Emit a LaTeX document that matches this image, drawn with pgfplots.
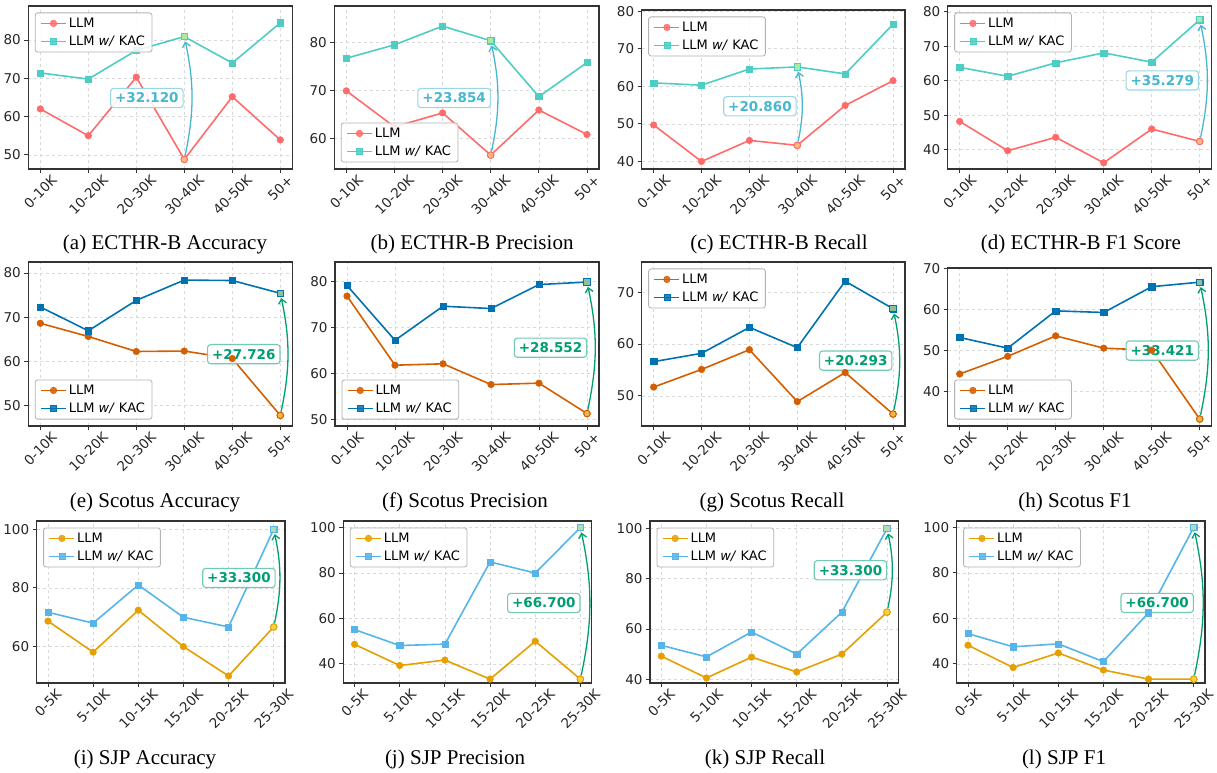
\documentclass[border=0pt]{standalone}
\usepackage{pgfplots}
\pgfplotsset{compat=1.18}
\usepackage{graphicx}
\usepackage{fontspec}
\setmainfont{DejaVu Sans}
\newfontfamily\capfont{Liberation Serif}
\usetikzlibrary{arrows.meta}

\definecolor{rA}{HTML}{FF6B6B}
\definecolor{tA}{HTML}{4ECDC4}
\definecolor{annA}{HTML}{45B7D1}
\definecolor{rB}{HTML}{D55E00}
\definecolor{bB}{HTML}{0072B2}
\definecolor{annB}{HTML}{009E73}
\definecolor{oC}{HTML}{E69F00}
\definecolor{sC}{HTML}{56B4E9}
\definecolor{hly}{HTML}{FFFF80}
\definecolor{framec}{HTML}{333333}

\newcommand{\rl}[1]{\rotatebox{45}{#1}}

\tikzset{
  annarrow/.style={draw=#1, line width=1.3pt, -{Straight Barb[length=4.5pt,width=8pt]}, shorten <=4pt, shorten >=5pt},
  annbox/.style={draw=#1!55, fill=white, fill opacity=0.9, text opacity=1, text=#1, rounded corners=3pt, line width=1.1pt, inner xsep=4.5pt, inner ysep=4.5pt, font=\bfseries\fontsize{13.5}{15}\selectfont},
  capt/.style={anchor=base, font=\capfont\fontsize{21}{24}\selectfont},
}

\pgfplotsset{
  base/.style={scale only axis, anchor=south west,
    xmin=-0.25, xmax=5.25, xtick={0,1,2,3,4,5},
    tick align=outside, xtick pos=bottom, ytick pos=left,
    major tick length=4pt,
    every tick/.style={framec, line width=0.9pt},
    axis line style={framec, line width=1.4pt},
    grid=major, grid style={dashed, black!15, line width=0.6pt},
    ticklabel style={font=\fontsize{13.5}{15}\selectfont, text=black!85},
    /pgf/number format/assume math mode=true,
    xticklabel style={anchor=north, inner sep=1pt},
    legend cell align=left,
    legend style={font=\fontsize{13}{15}\selectfont, draw=black!30, line width=0.8pt, rounded corners=2.5pt, fill=white, fill opacity=0.85, text opacity=1, inner xsep=5pt, inner ysep=3pt, row sep=3pt},
    legend image code/.code={\draw[mark repeat=2,mark phase=2,##1] plot coordinates {(0pt,0pt) (12.5pt,0pt) (25pt,0pt)};},
  },
  ul/.style={legend style={at={(0,1)}, anchor=north west, xshift=6.5pt, yshift=-6.5pt}},
  ll/.style={legend style={at={(0,0)}, anchor=south west, xshift=6.5pt, yshift=6.5pt}},
  xk/.style={xticklabels={\rl{0-10K},\rl{10-20K},\rl{20-30K},\rl{30-40K},\rl{40-50K},\rl{50+}}},
  xs/.style={xticklabels={\rl{0-5K},\rl{5-10K},\rl{10-15K},\rl{15-20K},\rl{20-25K},\rl{25-30K}}},
  llm/.style={color=#1, line width=1.6pt, mark=*, mark size=3.3pt, mark options={solid, line width=0.5pt}},
  kac/.style={color=#1, line width=1.6pt, mark=square*, mark size=3.1pt, mark options={solid, line width=0.5pt}},
  hlc/.style={only marks, mark=*, mark size=3.3pt, mark options={draw=#1, fill=#1!45!hly, line width=1pt}},
  hls/.style={only marks, mark=square*, mark size=3.1pt, mark options={draw=#1, fill=#1!45!hly, line width=1pt}},
}

\begin{document}
\begin{tikzpicture}
\useasboundingbox (0,0) rectangle (1217pt,772pt);

% (a)
\begin{axis}[base, xk, ul, at={(28.3pt,603pt)}, width=264pt, height=163pt,
  ymin=46.3, ymax=88.9, ytick={50,60,70,80}]
\addplot[llm=rA] coordinates {(0,62.0) (1,55.0) (2,70.3) (3,48.8) (4,65.2) (5,53.9)};
\addlegendentry{LLM}
\addplot[kac=tA] coordinates {(0,71.4) (1,69.8) (2,77.3) (3,80.9) (4,74.0) (5,84.5)};
\addlegendentry{LLM \textit{w/} KAC}
\addplot[hlc=rA, forget plot] coordinates {(3,48.8)};
\addplot[hls=tA, forget plot] coordinates {(3,80.9)};
\draw[annarrow=annA] (axis cs:3,48.8) to[bend right=12] (axis cs:3,80.9);
\node[annbox=annA] at (axis cs:2.22,64.85) {+32.120};
\end{axis}

% (b)
\begin{axis}[base, xk, ll, at={(334.3pt,603pt)}, width=264.7pt, height=163pt,
  ymin=53.6, ymax=87.6, ytick={60,70,80}]
\addplot[llm=rA] coordinates {(0,69.9) (1,62.4) (2,65.3) (3,56.5) (4,65.9) (5,60.8)};
\addlegendentry{LLM}
\addplot[kac=tA] coordinates {(0,76.7) (1,79.5) (2,83.4) (3,80.35) (4,68.7) (5,75.8)};
\addlegendentry{LLM \textit{w/} KAC}
\addplot[hlc=rA, forget plot] coordinates {(3,56.5)};
\addplot[hls=tA, forget plot] coordinates {(3,80.35)};
\draw[annarrow=annA] (axis cs:3,56.5) to[bend right=12] (axis cs:3,80.35);
\node[annbox=annA] at (axis cs:2.24,68.4) {+23.854};
\end{axis}

% (c)
\begin{axis}[base, xk, ul, at={(641.7pt,603pt)}, width=263.3pt, height=159pt,
  ymin=38.0, ymax=80.3, ytick={40,50,60,70,80}]
\addplot[llm=rA] coordinates {(0,49.7) (1,40.0) (2,45.6) (3,44.3) (4,54.9) (5,61.5)};
\addlegendentry{LLM}
\addplot[kac=tA] coordinates {(0,60.9) (1,60.3) (2,64.6) (3,65.16) (4,63.3) (5,76.5)};
\addlegendentry{LLM \textit{w/} KAC}
\addplot[hlc=rA, forget plot] coordinates {(3,44.3)};
\addplot[hls=tA, forget plot] coordinates {(3,65.16)};
\draw[annarrow=annA] (axis cs:3,44.3) to[bend right=12] (axis cs:3,65.16);
\node[annbox=annA] at (axis cs:2.22,54.7) {+20.860};
\end{axis}

% (d)
\begin{axis}[base, xk, ul, at={(947.7pt,603pt)}, width=264pt, height=163pt,
  ymin=34.4, ymax=81.7, ytick={40,50,60,70,80}]
\addplot[llm=rA] coordinates {(0,48.2) (1,39.7) (2,43.6) (3,36.2) (4,46.0) (5,42.4)};
\addlegendentry{LLM}
\addplot[kac=tA] coordinates {(0,63.9) (1,61.3) (2,65.2) (3,68.1) (4,65.4) (5,77.7)};
\addlegendentry{LLM \textit{w/} KAC}
\addplot[hlc=rA, forget plot] coordinates {(5,42.4)};
\addplot[hls=tA, forget plot] coordinates {(5,77.7)};
\draw[annarrow=annA] (axis cs:5,42.4) to[bend right=12] (axis cs:5,77.7);
\node[annbox=annA] at (axis cs:4.22,60.1) {+35.279};
\end{axis}

% (e)
\begin{axis}[base, xk, ll, at={(28.3pt,346pt)}, width=264pt, height=164pt,
  ymin=45.3, ymax=82.5, ytick={50,60,70,80}]
\addplot[llm=rB] coordinates {(0,68.6) (1,65.6) (2,62.2) (3,62.3) (4,60.6) (5,47.7)};
\addlegendentry{LLM}
\addplot[kac=bB] coordinates {(0,72.3) (1,66.9) (2,73.8) (3,78.4) (4,78.3) (5,75.4)};
\addlegendentry{LLM \textit{w/} KAC}
\addplot[hlc=rB, forget plot] coordinates {(5,47.7)};
\addplot[hls=bB, forget plot] coordinates {(5,75.4)};
\draw[annarrow=annB] (axis cs:5,47.7) to[bend right=12] (axis cs:5,75.4);
\node[annbox=annB] at (axis cs:4.24,61.6) {+27.726};
\end{axis}

% (f)
\begin{axis}[base, xk, ll, at={(335pt,346pt)}, width=264pt, height=164pt,
  ymin=48.6, ymax=84.2, ytick={50,60,70,80}]
\addplot[llm=rB] coordinates {(0,76.8) (1,61.8) (2,62.1) (3,57.6) (4,57.9) (5,51.3)};
\addlegendentry{LLM}
\addplot[kac=bB] coordinates {(0,79.1) (1,67.2) (2,74.6) (3,74.1) (4,79.3) (5,79.85)};
\addlegendentry{LLM \textit{w/} KAC}
\addplot[hlc=rB, forget plot] coordinates {(5,51.3)};
\addplot[hls=bB, forget plot] coordinates {(5,79.85)};
\draw[annarrow=annB] (axis cs:5,51.3) to[bend right=12] (axis cs:5,79.85);
\node[annbox=annB] at (axis cs:4.24,65.6) {+28.552};
\end{axis}

% (g)
\begin{axis}[base, xk, ul, at={(641.7pt,346pt)}, width=263.3pt, height=164pt,
  ymin=44.2, ymax=75.8, ytick={50,60,70}]
\addplot[llm=rB] coordinates {(0,51.7) (1,55.1) (2,58.9) (3,48.9) (4,54.5) (5,46.5)};
\addlegendentry{LLM}
\addplot[kac=bB] coordinates {(0,56.6) (1,58.2) (2,63.2) (3,59.3) (4,72.1) (5,66.8)};
\addlegendentry{LLM \textit{w/} KAC}
\addplot[hlc=rB, forget plot] coordinates {(5,46.5)};
\addplot[hls=bB, forget plot] coordinates {(5,66.8)};
\draw[annarrow=annB] (axis cs:5,46.5) to[bend right=12] (axis cs:5,66.8);
\node[annbox=annB] at (axis cs:4.22,56.8) {+20.293};
\end{axis}

% (h)
\begin{axis}[base, xk, ll, at={(947.7pt,346pt)}, width=264pt, height=158pt,
  ymin=31.6, ymax=70.16, ytick={40,50,60,70}]
\addplot[llm=rB] coordinates {(0,44.3) (1,48.6) (2,53.6) (3,50.6) (4,50.1) (5,33.3)};
\addlegendentry{LLM}
\addplot[kac=bB] coordinates {(0,53.2) (1,50.6) (2,59.7) (3,59.3) (4,65.6) (5,66.7)};
\addlegendentry{LLM \textit{w/} KAC}
\addplot[hlc=rB, forget plot] coordinates {(5,33.3)};
\addplot[hls=bB, forget plot] coordinates {(5,66.7)};
\draw[annarrow=annB] (axis cs:5,33.3) to[bend right=12] (axis cs:5,66.7);
\node[annbox=annB] at (axis cs:4.22,50.0) {+33.421};
\end{axis}

% (i)
\begin{axis}[base, xs, ul, at={(36.7pt,89pt)}, width=248.3pt, height=162pt,
  ymin=47.6, ymax=102.8, ytick={60,80,100}]
\addplot[llm=oC] coordinates {(0,68.7) (1,58.1) (2,72.4) (3,60.0) (4,50.0) (5,66.7)};
\addlegendentry{LLM}
\addplot[kac=sC] coordinates {(0,71.7) (1,68.0) (2,81.0) (3,70.0) (4,66.7) (5,100)};
\addlegendentry{LLM \textit{w/} KAC}
\addplot[hlc=oC, forget plot] coordinates {(5,66.7)};
\addplot[hls=sC, forget plot] coordinates {(5,100)};
\draw[annarrow=annB] (axis cs:5,66.7) to[bend right=12] (axis cs:5,100);
\node[annbox=annB] at (axis cs:4.23,83.4) {+33.300};
\end{axis}

% (j)
\begin{axis}[base, xs, ul, at={(343.3pt,89pt)}, width=248.4pt, height=162pt,
  ymin=31.6, ymax=102.9, ytick={40,60,80,100}]
\addplot[llm=oC] coordinates {(0,48.6) (1,39.3) (2,41.7) (3,33.3) (4,50.0) (5,33.3)};
\addlegendentry{LLM}
\addplot[kac=sC] coordinates {(0,55.1) (1,48.1) (2,48.7) (3,84.9) (4,80.0) (5,100)};
\addlegendentry{LLM \textit{w/} KAC}
\addplot[hlc=oC, forget plot] coordinates {(5,33.3)};
\addplot[hls=sC, forget plot] coordinates {(5,100)};
\draw[annarrow=annB] (axis cs:5,33.3) to[bend right=12] (axis cs:5,100);
\node[annbox=annB] at (axis cs:4.19,66.8) {+66.700};
\end{axis}

% (k)
\begin{axis}[base, xs, ul, at={(650pt,89pt)}, width=248.3pt, height=162pt,
  ymin=38.5, ymax=103, ytick={40,60,80,100}]
\addplot[llm=oC] coordinates {(0,49.2) (1,40.5) (2,48.8) (3,42.9) (4,50.0) (5,66.7)};
\addlegendentry{LLM}
\addplot[kac=sC] coordinates {(0,53.5) (1,48.9) (2,58.8) (3,50.0) (4,66.7) (5,100)};
\addlegendentry{LLM \textit{w/} KAC}
\addplot[hlc=oC, forget plot] coordinates {(5,66.7)};
\addplot[hls=sC, forget plot] coordinates {(5,100)};
\draw[annarrow=annB] (axis cs:5,66.7) to[bend right=12] (axis cs:5,100);
\node[annbox=annB] at (axis cs:4.19,83.4) {+33.300};
\end{axis}

% (l)
\begin{axis}[base, xs, ul, at={(956.7pt,89pt)}, width=248.3pt, height=162pt,
  ymin=31.6, ymax=102.8, ytick={40,60,80,100}]
\addplot[llm=oC] coordinates {(0,48.2) (1,38.4) (2,44.8) (3,37.3) (4,33.3) (5,33.3)};
\addlegendentry{LLM}
\addplot[kac=sC] coordinates {(0,53.3) (1,47.5) (2,48.8) (3,41.0) (4,62.5) (5,100)};
\addlegendentry{LLM \textit{w/} KAC}
\addplot[hlc=oC, forget plot] coordinates {(5,33.3)};
\addplot[hls=sC, forget plot] coordinates {(5,100)};
\draw[annarrow=annB] (axis cs:5,33.3) to[bend right=12] (axis cs:5,100);
\node[annbox=annB] at (axis cs:4.19,66.8) {+66.700};
\end{axis}

% captions
\node[capt] at (165pt,522pt) {(a) ECTHR-B Accuracy};
\node[capt] at (472pt,522pt) {(b) ECTHR-B Precision};
\node[capt] at (779pt,522pt) {(c) ECTHR-B Recall};
\node[capt] at (1081pt,522pt) {(d) ECTHR-B F1 Score};
\node[capt] at (155pt,265pt) {(e) Scotus Accuracy};
\node[capt] at (465pt,265pt) {(f) Scotus Precision};
\node[capt] at (772pt,265pt) {(g) Scotus Recall};
\node[capt] at (1075pt,265pt) {(h) Scotus F1};
\node[capt] at (145pt,8pt) {(i) SJP Accuracy};
\node[capt] at (455pt,8pt) {(j) SJP Precision};
\node[capt] at (765pt,8pt) {(k) SJP Recall};
\node[capt] at (1064pt,8pt) {(l) SJP F1};
\end{tikzpicture}
\end{document}
